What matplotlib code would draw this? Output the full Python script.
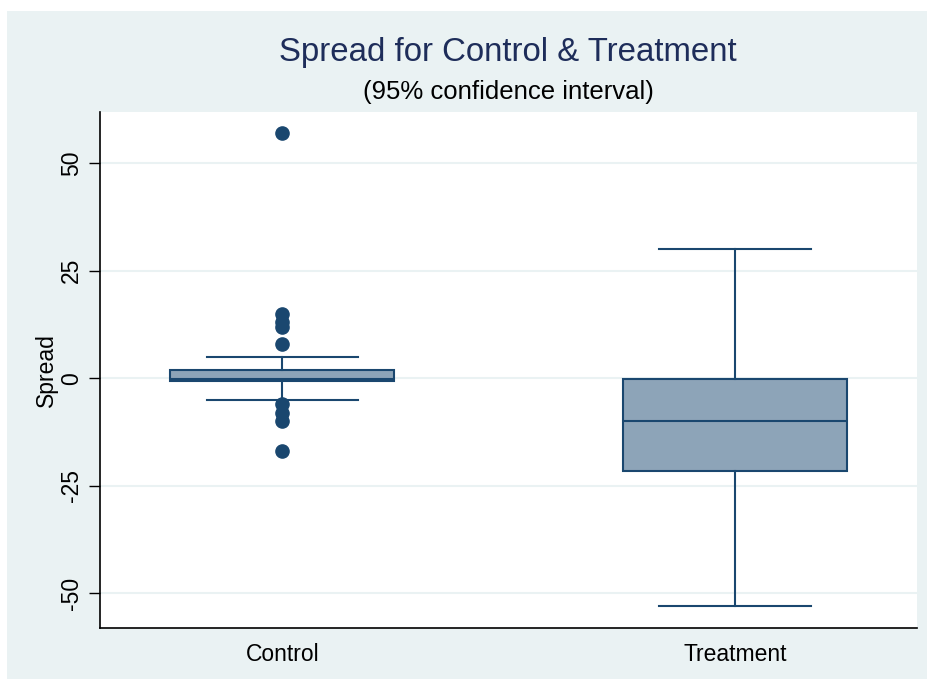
import matplotlib
matplotlib.use("Agg")
import matplotlib.pyplot as plt
from matplotlib.patches import Rectangle

plt.rcParams['font.family'] = ['Liberation Sans', 'DejaVu Sans']

categories = ["Control", "Treatment"]
whislo = [-5, -53]
q1 = [-0.7, -21.7]
med = [-0.1, -10]
q3 = [1.8, -0.2]
whishi = [5, 30]
fliers = [[57, 15, 13, 12, 8, -6, -8, -10, -17], []]
yticks = [-50, -25, 0, 25, 50]

navy = "#1A476F"
fill = "#8DA4B8"
bg = "#EAF2F3"

fig = plt.figure(figsize=(9.28, 6.79), dpi=100)
fig.patch.set_facecolor("white")
fig.patches.append(Rectangle((7/928, 0), 1, (679-11)/679, transform=fig.transFigure,
                             facecolor=bg, edgecolor="none", zorder=-10))

ax = fig.add_axes([100/928, (679-628)/679, (917-100)/928, (628-112)/679])
ax.set_facecolor("white")

stats = []
for i, c in enumerate(categories):
    stats.append(dict(label=c, whislo=whislo[i], q1=q1[i], med=med[i], q3=q3[i],
                      whishi=whishi[i], fliers=fliers[i]))

ax.bxp(stats, positions=[1, 2], widths=0.495, capwidths=0.334, patch_artist=True,
       boxprops=dict(facecolor=fill, edgecolor=navy, linewidth=1.5),
       medianprops=dict(color=navy, linewidth=1.5),
       whiskerprops=dict(color=navy, linewidth=1.5),
       capprops=dict(color=navy, linewidth=1.5),
       flierprops=dict(marker='o', markerfacecolor=navy, markeredgecolor=navy, markersize=9.5),
       zorder=3)

ax.set_xlim(0.597, 2.402)
ax.set_ylim(-58.1, 61.9)
ax.set_yticks(yticks)
ax.set_yticklabels([str(v) for v in yticks], rotation=90, va='center', fontsize=16.5)
ax.tick_params(axis='y', length=8, width=1, color='black', pad=4)
ax.tick_params(axis='x', length=0, labelsize=16.5, pad=11)
ax.grid(axis='y', color=bg, linewidth=1.5, zorder=0)
ax.set_axisbelow(True)
for s in ['top', 'right']:
    ax.spines[s].set_visible(False)
for s in ['left', 'bottom']:
    ax.spines[s].set_color('black')
    ax.spines[s].set_linewidth(1.2)
ax.set_ylabel("Spread", fontsize=16.5, labelpad=2)

fig.text(508/928, 1 - 52/679, "Spread for Control & Treatment", ha='center', va='center',
         fontsize=23.8, color="#1E2D5A")
fig.text(508/928, 1 - 92/679, "(95% confidence interval)", ha='center', va='center',
         fontsize=18.5, color="black")

fig.savefig("out.png", dpi=100, facecolor=fig.get_facecolor())
